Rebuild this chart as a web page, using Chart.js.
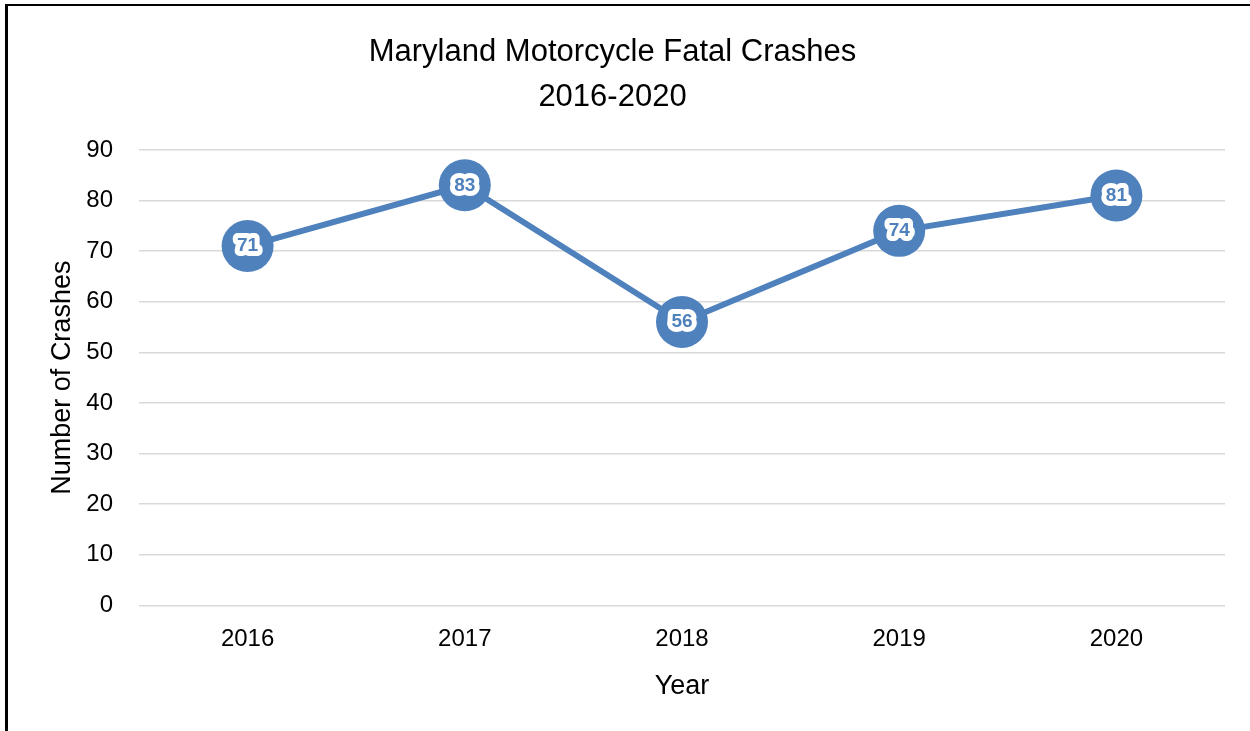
<!DOCTYPE html>
<html>
<head>
<meta charset="utf-8">
<script src="https://cdn.jsdelivr.net/npm/chart.js@4"></script>
<style>
  html, body { margin: 0; padding: 0; background: #fff; overflow: hidden; }
  #wrap { position: absolute; left: 0; top: 0; width: 1250px; height: 731px; }
  #frame { position: absolute; left: 5px; top: 4px; width: 1245px; height: 727px;
           border-left: 3px solid #000; border-top: 2px solid #000; box-sizing: border-box; pointer-events: none; }
</style>
</head>
<body>
<div id="wrap"><canvas id="crashes"></canvas></div>
<div id="frame"></div>
<script>
  const years = ['2016', '2017', '2018', '2019', '2020'];
  const fatalCrashes = [71, 83, 56, 74, 81];

  const blue = '#4f81bd';
  const font = "'Liberation Sans', Arial, sans-serif";

  // value labels on the markers: blue digits inside a thick white halo
  const valueLabels = {
    id: 'valueLabels',
    afterDatasetsDraw(chart) {
      const ctx = chart.ctx;
      const meta = chart.getDatasetMeta(0);
      ctx.save();
      ctx.font = 'bold 19px ' + font;
      ctx.textAlign = 'center';
      ctx.textBaseline = 'middle';
      ctx.lineJoin = 'round';
      ctx.lineWidth = 10;
      ctx.strokeStyle = '#ffffff';
      ctx.fillStyle = blue;
      meta.data.forEach((pt, i) => {
        const txt = String(fatalCrashes[i]);
        ctx.strokeText(txt, pt.x, pt.y);
        ctx.fillText(txt, pt.x, pt.y);
      });
      ctx.restore();
    }
  };

  const dataCrashes = {
    labels: years,
    datasets: [{
      label: 'Fatal Crashes',
      data: fatalCrashes,
      borderColor: blue,
      borderWidth: 6,
      pointRadius: 26,
      pointBorderWidth: 0,
      pointBackgroundColor: blue,
      pointBorderColor: blue,
      tension: 0
    }]
  };

  const configCrashes = {
    type: 'line',
    data: dataCrashes,
    plugins: [valueLabels],
    options: {
      responsive: true,
      maintainAspectRatio: false,
      animation: false,
      layout: { autoPadding: false, padding: { left: 0, right: 25, top: 0, bottom: 32 } },
      plugins: {
        legend: { display: false },
        tooltip: { enabled: false },
        title: {
          display: true,
          text: ['Maryland Motorcycle Fatal Crashes', '2016-2020'],
          color: '#000',
          font: { family: font, size: 31, weight: 'normal', lineHeight: 1.45 },
          padding: { top: 30, bottom: 30 }
        }
      },
      scales: {
        x: {
          offset: true,
          grid: { display: false, drawTicks: false },
          border: { display: false },
          ticks: { color: '#000', padding: 20, font: { family: font, size: 24 } },
          title: {
            display: true,
            text: 'Year',
            color: '#000',
            font: { family: font, size: 27, lineHeight: 0.92 },
            padding: { top: 0, bottom: 0 }
          }
        },
        y: {
          min: 0,
          max: 90,
          afterFit(scale) { scale.width = 139; },
          grid: { color: '#d9d9d9', lineWidth: 1.5, drawTicks: false },
          border: { display: false },
          ticks: { stepSize: 10, color: '#000', padding: 26, font: { family: font, size: 24 } },
          title: {
            display: true,
            text: 'Number of Crashes',
            color: '#000',
            font: { family: font, size: 27 },
            padding: { top: 46, bottom: 0 }
          }
        }
      }
    }
  };

  const crashChart = new Chart(
    document.getElementById('crashes'),
    configCrashes
  );
</script>
</body>
</html>
